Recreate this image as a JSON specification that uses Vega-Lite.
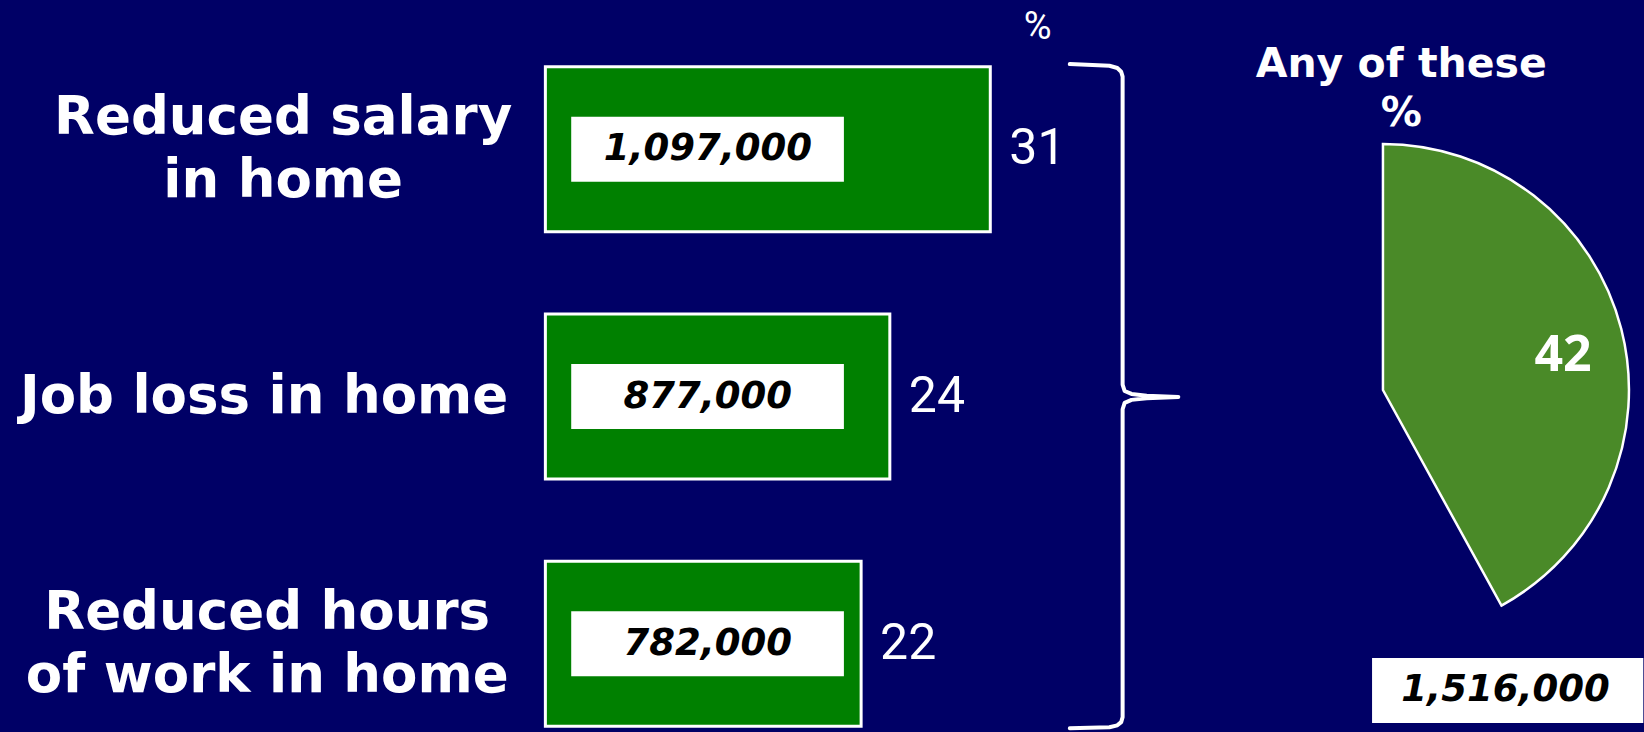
{
  "$schema": "https://vega.github.io/schema/vega-lite/v6.json",
  "width": 1644,
  "height": 732,
  "autosize": {"type": "fit", "contains": "padding"},
  "padding": 0,
  "background": "#000066",
  "config": {"view": {"stroke": null}},
  "datasets": {
    "bars": [
      {"category": "Reduced salary\nin home", "pct": 31, "count": 1097000},
      {"category": "Job loss in home", "pct": 24, "count": 877000},
      {"category": "Reduced hours\nof work in home", "pct": 22, "count": 782000}
    ],
    "total": [
      {"label": "Any of these", "pct": 42, "count": 1516000}
    ],
    "brace": [
      {"i": 1, "bx": 36.54, "by": 0.659},
      {"i": 2, "bx": 39.3, "by": 0.666},
      {"i": 3, "bx": 39.85, "by": 0.675},
      {"i": 4, "bx": 40.12, "by": 0.69},
      {"i": 5, "bx": 40.22, "by": 0.71},
      {"i": 6, "bx": 40.22, "by": 1.955},
      {"i": 7, "bx": 40.36, "by": 1.981},
      {"i": 8, "bx": 40.84, "by": 1.993},
      {"i": 9, "bx": 41.9, "by": 2.0},
      {"i": 10, "bx": 44.1, "by": 2.005},
      {"i": 11, "bx": 41.9, "by": 2.01},
      {"i": 12, "bx": 40.84, "by": 2.017},
      {"i": 13, "bx": 40.36, "by": 2.029},
      {"i": 14, "bx": 40.22, "by": 2.055},
      {"i": 15, "bx": 40.22, "by": 3.3},
      {"i": 16, "bx": 40.12, "by": 3.32},
      {"i": 17, "bx": 39.85, "by": 3.333},
      {"i": 18, "bx": 39.3, "by": 3.341},
      {"i": 19, "bx": 36.54, "by": 3.345}
    ]
  },
  "resolve": {"scale": {"y": "independent"}},
  "layer": [
    {
      "data": {"name": "bars"},
      "encoding": {
        "y": {
          "field": "category",
          "type": "nominal",
          "sort": null,
          "axis": null,
          "scale": {"paddingInner": 0.3325, "paddingOuter": 0.147, "align": 0.92}
        }
      },
      "layer": [
        {
          "mark": {"type": "bar", "fill": "#008000", "stroke": "white", "strokeWidth": 3},
          "encoding": {
            "x": {"field": "pct", "type": "quantitative", "axis": null,
                  "scale": {"domain": [-38, 76.2], "nice": false, "zero": false}}
          }
        },
        {
          "mark": {"type": "rect", "fill": "white", "height": {"band": 0.394}},
          "encoding": {
            "x": {"datum": 1.8, "type": "quantitative"},
            "x2": {"datum": 20.8}
          }
        },
        {
          "mark": {"type": "text", "font": "DejaVu Sans", "fontSize": 37, "fontWeight": "bold",
                   "fontStyle": "italic", "fill": "black", "align": "center", "baseline": "middle"},
          "encoding": {
            "x": {"datum": 11.32, "type": "quantitative"},
            "text": {"field": "count", "type": "quantitative", "format": ",d"}
          }
        },
        {
          "mark": {"type": "text", "font": "Roboto", "fontSize": 50,
                   "fill": "white", "align": "left", "baseline": "middle", "dx": 19},
          "encoding": {
            "x": {"field": "pct", "type": "quantitative"},
            "text": {"field": "pct", "type": "quantitative"}
          }
        },
        {
          "transform": [{"filter": {"field": "category", "equal": "Reduced salary\nin home"}}],
          "mark": {"type": "text", "font": "DejaVu Sans", "fontSize": 53, "fontWeight": "bold",
                   "fill": "white", "align": "center", "baseline": "middle", "lineBreak": "\n",
                   "lineHeight": 63, "dy": -31},
          "encoding": {
            "x": {"datum": -18.27, "type": "quantitative"},
            "text": {"field": "category"}
          }
        },
        {
          "transform": [{"filter": {"field": "category", "equal": "Job loss in home"}}],
          "mark": {"type": "text", "font": "DejaVu Sans", "fontSize": 53, "fontWeight": "bold",
                   "fill": "white", "align": "center", "baseline": "middle", "lineBreak": "\n", "lineHeight": 63},
          "encoding": {
            "x": {"datum": -19.6, "type": "quantitative"},
            "text": {"field": "category"}
          }
        },
        {
          "transform": [{"filter": {"field": "category", "equal": "Reduced hours\nof work in home"}}],
          "mark": {"type": "text", "font": "DejaVu Sans", "fontSize": 53, "fontWeight": "bold",
                   "fill": "white", "align": "center", "baseline": "middle", "lineBreak": "\n",
                   "lineHeight": 63, "dy": -31},
          "encoding": {
            "x": {"datum": -19.38, "type": "quantitative"},
            "text": {"field": "category"}
          }
        }
      ]
    },
    {
      "layer": [
        {
          "data": {"name": "brace"},
          "mark": {"type": "line", "stroke": "white", "strokeWidth": 4, "strokeCap": "round", "strokeJoin": "round"},
          "encoding": {
            "x": {"field": "bx", "type": "quantitative", "axis": null,
                  "scale": {"domain": [-38, 76.2], "nice": false, "zero": false}},
            "y": {"field": "by", "type": "quantitative", "axis": null,
                  "scale": {"domain": [0.4, 3.36], "reverse": true, "nice": false, "zero": false}},
            "order": {"field": "i", "type": "quantitative"}
          }
        },
        {
          "data": {"name": "total"},
          "encoding": {
            "x": {"datum": 58.36, "type": "quantitative"},
            "y": {"datum": 1.977, "type": "quantitative"},
            "theta": {"field": "pct", "type": "quantitative", "stack": true,
                      "scale": {"domain": [0, 100], "range": [0, 6.283185]}}
          },
          "layer": [
            {
              "mark": {"type": "arc", "radius": 246, "fill": "#4a8a28", "stroke": "white", "strokeWidth": 2.5}
            },
            {
              "mark": {"type": "text", "radius": 186, "dy": 12, "font": "Open Sans", "fontSize": 50,
                       "fontWeight": "bold", "fill": "white", "align": "center", "baseline": "middle"},
              "encoding": {"text": {"field": "pct", "type": "quantitative"}}
            }
          ]
        },
        {
          "data": {"name": "total"},
          "mark": {"type": "text", "font": "DejaVu Sans", "fontSize": 41, "fontWeight": "bold",
                   "fill": "white", "align": "center", "baseline": "middle", "lineHeight": 49, "dy": -23},
          "encoding": {
            "x": {"datum": 59.63, "type": "quantitative"},
            "y": {"datum": 0.754, "type": "quantitative"},
            "text": {"value": ["Any of these", "%"]}
          }
        },
        {
          "data": {"name": "total"},
          "mark": {"type": "rect", "fill": "white"},
          "encoding": {
            "x": {"datum": 57.6, "type": "quantitative"},
            "x2": {"datum": 76.5},
            "y": {"datum": 3.061, "type": "quantitative"},
            "y2": {"datum": 3.324}
          }
        },
        {
          "data": {"name": "total"},
          "mark": {"type": "text", "font": "DejaVu Sans", "fontSize": 37, "fontWeight": "bold",
                   "fontStyle": "italic", "fill": "black", "align": "center", "baseline": "middle"},
          "encoding": {
            "x": {"datum": 66.9, "type": "quantitative"},
            "y": {"datum": 3.192, "type": "quantitative"},
            "text": {"field": "count", "type": "quantitative", "format": ",d"}
          }
        },
        {
          "data": {"name": "total"},
          "mark": {"type": "text", "font": "Roboto", "fontSize": 38,
                   "fill": "white", "align": "center", "baseline": "middle"},
          "encoding": {
            "x": {"datum": 34.3, "type": "quantitative"},
            "y": {"datum": 0.513, "type": "quantitative"},
            "text": {"value": "%"}
          }
        }
      ]
    }
  ]
}
